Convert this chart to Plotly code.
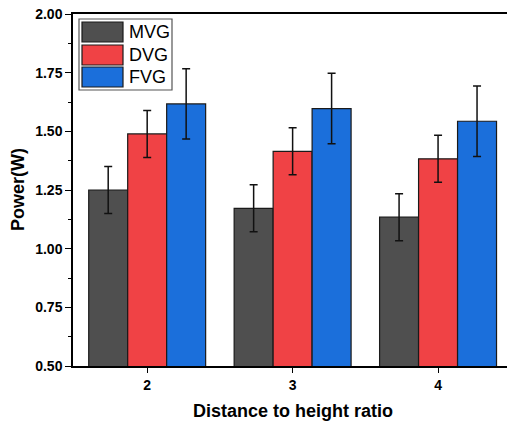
import plotly.graph_objects as go

categories = [2, 3, 4]
series_names = ["MVG", "DVG", "FVG"]
mvg = [1.25, 1.172, 1.134]
dvg = [1.489, 1.415, 1.383]
fvg = [1.617, 1.597, 1.543]
mvg_err = [0.10, 0.10, 0.10]
dvg_err = [0.10, 0.10, 0.10]
fvg_err = [0.15, 0.15, 0.15]
y_ticks = [0.50, 0.75, 1.00, 1.25, 1.50, 1.75, 2.00]

colors = ["#4f4f4f", "#f04245", "#1b6fdb"]
values = [mvg, dvg, fvg]
errors = [mvg_err, dvg_err, fvg_err]

W, H = 507, 425
L, R, T, B = 73, 0, 14, 59

fig = go.Figure()
for name, vals, errs, col in zip(series_names, values, errors, colors):
    fig.add_trace(go.Bar(
        x=categories, y=vals, name=name,
        marker=dict(color=col, line=dict(color="#1a1a1a", width=1.2)),
        error_y=dict(type="data", array=errs, visible=True, color="#111111",
                     thickness=1.5, width=4),
        showlegend=False,
    ))

font = "Liberation Sans, Arial, sans-serif"
fig.update_layout(
    width=W, height=H,
    margin=dict(l=L, r=R, t=T, b=B, pad=0, autoexpand=False),
    paper_bgcolor="white", plot_bgcolor="white",
    barmode="group", bargap=0.196, bargroupgap=0,
    font=dict(family=font, color="black"),
    xaxis=dict(
        type="linear", range=[1.49, 4.474], automargin=False,
        tickvals=categories, ticktext=[str(c) for c in categories],
        ticks="outside", ticklen=5, tickwidth=1.2, tickcolor="black",
        showline=True, linecolor="black", linewidth=1.5, mirror=True,
        showgrid=False, zeroline=False,
        tickfont=dict(size=14, weight="bold"),
    ),
    yaxis=dict(
        range=[0.5, 2.0], tickvals=y_ticks, tickformat=".2f", automargin=False,
        ticks="outside", ticklen=6, tickwidth=1.2, tickcolor="black",
        minor=dict(dtick=0.125, ticks="outside", ticklen=3, tickwidth=1, tickcolor="black"),
        showline=True, linecolor="black", linewidth=1.5,
        showgrid=False, zeroline=False,
        tickfont=dict(size=14, weight="bold"),
    ),
)

pw, ph = W - L - R, H - T - B
def px(x): return (x - L) / pw
def py(y): return (H - B - y) / ph

# axis titles
fig.add_annotation(xref="paper", yref="paper", x=px(293), y=py(411),
                   text="Distance to height ratio", showarrow=False,
                   xanchor="center", yanchor="middle",
                   font=dict(size=18, weight="bold", family=font, color="black"))
fig.add_annotation(xref="paper", yref="paper", x=px(18), y=py(190),
                   text="Power(W)", showarrow=False, textangle=-90,
                   xanchor="center", yanchor="middle",
                   font=dict(size=18, weight="bold", family=font, color="black"))

# custom legend (paper coordinates)
fig.add_shape(type="rect", xref="paper", yref="paper",
              x0=px(79), x1=px(172), y0=py(90), y1=py(19),
              line=dict(color="#555555", width=1.2), fillcolor="white")
rows = [(22, 42), (45, 65), (67, 87)]
for (y0, y1), name, col in zip(rows, series_names, colors):
    fig.add_shape(type="rect", xref="paper", yref="paper",
                  x0=px(82), x1=px(123), y0=py(y1), y1=py(y0),
                  line=dict(color="#1a1a1a", width=1.2), fillcolor=col)
    fig.add_annotation(xref="paper", yref="paper", x=px(127), y=py((y0 + y1) / 2),
                       text=name, showarrow=False, xanchor="left", yanchor="middle",
                       font=dict(size=18, family=font, color="black"))

fig.write_html("out.html",
               config={"displayModeBar": False},
               post_script="document.body.style.margin='0';document.body.style.overflow='hidden';")
